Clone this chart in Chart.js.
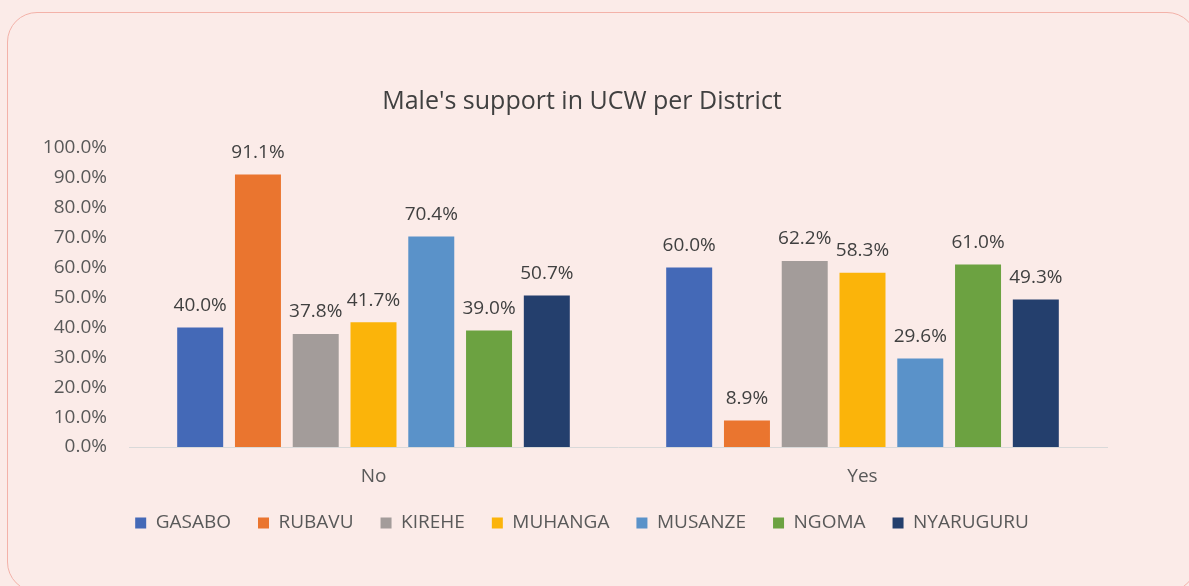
<!DOCTYPE html>
<html>
<head>
<meta charset="utf-8">
<script src="https://cdn.jsdelivr.net/npm/chart.js"></script>
<style>
  html, body { margin: 0; padding: 0; background: #fbebe8; overflow: hidden; }
  body { width: 1189px; height: 586px; position: relative; }
  #frame {
    position: absolute; left: 7px; top: 12px; width: 1190px; height: 580px;
    border: 1px solid #f3b2a9; border-radius: 30px; box-sizing: border-box;
  }
  #holder { position: absolute; left: 0; top: 0; width: 1164px; height: 586px; }
</style>
</head>
<body>
<div id="frame"></div>
<div id="holder"><canvas id="chart"></canvas></div>
<script>
  // values (percent)
  const answers = ['No', 'Yes'];
  const districts = ['GASABO', 'RUBAVU', 'KIREHE', 'MUHANGA', 'MUSANZE', 'NGOMA', 'NYARUGURU'];
  const noValues = [40.0, 91.1, 37.8, 41.7, 70.4, 39.0, 50.7];
  const yesValues = [60.0, 8.9, 62.2, 58.3, 29.6, 61.0, 49.3];
  const colors = ['#4469b7', '#ea752f', '#a39c9a', '#fbb40a', '#5a92c9', '#6ca241', '#243f6d'];

  const font = "'Open Sans', 'Noto Sans', sans-serif";

  const labelPlugin = {
    id: 'barLabels',
    afterDatasetsDraw(chart) {
      const ctx = chart.ctx;
      ctx.save();
      ctx.font = '19px ' + font;
      ctx.fillStyle = '#404040';
      ctx.textAlign = 'center';
      ctx.textBaseline = 'middle';
      chart.data.datasets.forEach((ds, i) => {
        chart.getDatasetMeta(i).data.forEach((bar, j) => {
          ctx.fillText(ds.data[j].toFixed(1) + '%', bar.x, bar.y - 22);
        });
      });
      ctx.restore();
    }
  };

  new Chart(document.getElementById('chart'), {
    type: 'bar',
    data: {
      labels: answers,
      datasets: districts.map((d, i) => ({
        label: d,
        data: [noValues[i], yesValues[i]],
        backgroundColor: colors[i],
        barPercentage: 0.796,
        categoryPercentage: 0.827
      }))
    },
    options: {
      responsive: true,
      maintainAspectRatio: false,
      animation: false,
      layout: { padding: { left: 0, right: 0, top: 0, bottom: 43.5 } },
      plugins: {
        title: {
          display: true,
          text: "Male's support in UCW per District",
          color: '#404040',
          font: { family: font, size: 25, weight: 'normal' },
          padding: { top: 87, bottom: 31 }
        },
        legend: {
          position: 'bottom',
          labels: {
            boxWidth: 11,
            boxHeight: 11,
            padding: 27,
            color: '#595959',
            font: { family: font, size: 19 }
          }
        },
        tooltip: { enabled: false }
      },
      scales: {
        x: {
          grid: { display: false, drawTicks: false },
          border: { display: true, color: '#d9d9d9', width: 1 },
          ticks: { color: '#595959', font: { family: font, size: 19 }, padding: 18.6 },
          afterFit(scale) { scale.height = 39.5; }
        },
        y: {
          min: 0,
          max: 100,
          grid: { display: false, drawTicks: false },
          border: { display: false },
          ticks: {
            stepSize: 10,
            color: '#595959',
            font: { family: font, size: 19 },
            padding: 22,
            callback: v => v.toFixed(1) + '%'
          },
          afterFit(scale) { scale.width = 129; }
        },
        // empty right-hand space so title and legend sit where the original has them
        spacer: {
          type: 'linear',
          position: 'right',
          grid: { display: false, drawTicks: false },
          border: { display: false },
          ticks: { display: false },
          afterFit(scale) { scale.width = 57; }
        }
      }
    },
    plugins: [labelPlugin]
  });
</script>
</body>
</html>
